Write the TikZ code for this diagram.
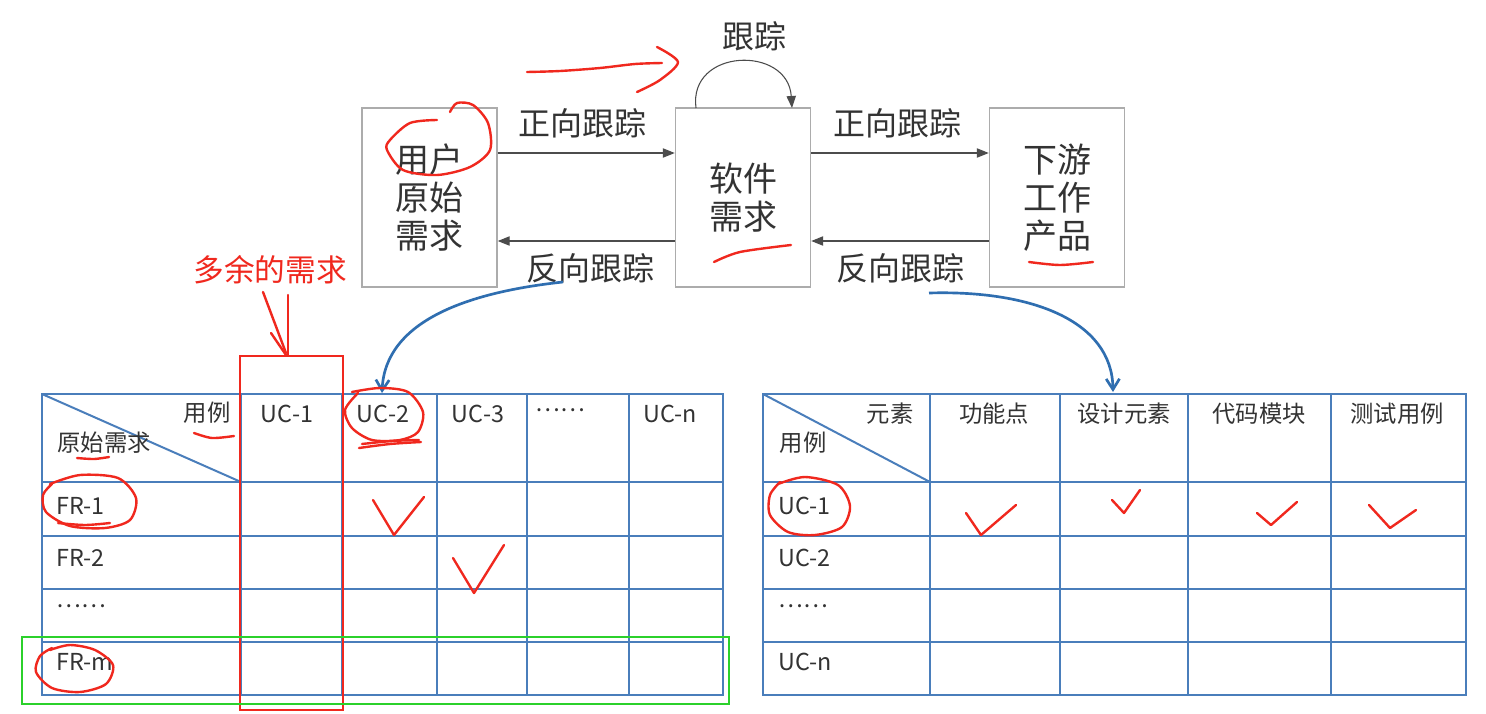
\documentclass[tikz,border=0pt]{standalone}
\usepackage{fontspec}
\setmainfont{Noto Sans CJK SC}
\usetikzlibrary{arrows.meta}
\definecolor{tblue}{HTML}{4A7EBB}
\definecolor{ablue}{HTML}{2F6EB0}
\definecolor{hred}{HTML}{F0281E}
\definecolor{hgreen}{HTML}{2BD12B}
\definecolor{txt}{HTML}{333333}
\begin{document}
\begin{tikzpicture}[x=0.75pt,y=-0.75pt,
  box/.style={draw=gray!65, line width=1.1pt, fill=white, minimum width=101.25pt, minimum height=134.25pt, inner sep=0pt, align=center, font=\fontsize{25.5}{28.5}\selectfont, text=txt},
  lab/.style={font=\fontsize{24}{27}\selectfont, text=txt, inner sep=1pt},
  flow/.style={draw=gray!60!black, line width=0.8pt, -{Triangle[length=9pt,width=7pt]}},
  grid/.style={draw=tblue, line width=1.5pt},
  cell/.style={font=\fontsize{17.5}{20}\selectfont, text=txt, inner sep=1pt},
  hand/.style={draw=hred, line width=1.8pt, line cap=round, line join=round},
  barc/.style={draw=ablue, line width=2pt, -{Straight Barb[length=8pt,width=10pt]}}
]
\useasboundingbox[fill=white] (0,0) rectangle (1486,714);

% ---- top boxes ----
\node[box] (b1) at (429.5,197.5) {用户\\原始\\需求};
\node[box] (b2) at (743,197.5) {软件\\需求};
\node[box] (b3) at (1057,197.5) {下游\\工作\\产品};

\coordinate (fy) at (0,153);
\coordinate (by) at (0,241);
\draw[flow] (b1.east |- fy) -- (b2.west |- fy);
\draw[flow] (b2.east |- fy) -- (b3.west |- fy);
\draw[flow] (b2.west |- by) -- (b1.east |- by);
\draw[flow] (b3.west |- by) -- (b2.east |- by);

\node[lab] (lf1) at (582,123) {正向跟踪};
\node[lab] (lf2) at (897,123) {正向跟踪};
\node[lab] (lb1) at (590,268) {反向跟踪};
\node[lab] (lb2) at (900,268) {反向跟踪};
\node[lab] (lt) at (754,36) {跟踪};

\coordinate (la) at (696,108);
\coordinate (lbb) at (792,108);
\draw[flow] (la) .. controls (688,48) and (788,45) .. (lbb);

% ---- left table ----
\draw[grid] (42,394) rectangle (723,695);
\foreach \x in {241,342,437,527,629} \draw[grid] (\x,394) -- (\x,695);
\foreach \y in {482,536,589,642} \draw[grid] (42,\y) -- (723,\y);
\draw[grid] (42,394) -- (241,482);

\node[cell] (ly) at (207,413) {用例};
\node[cell] (lr) at (104,443) {原始需求};
\node[cell] (uc1) at (287,414) {UC-1};
\node[cell] (uc2) at (383,414) {UC-2};
\node[cell] (uc3) at (478,414) {UC-3};
\node[cell] (ucd) at (560,410) {……};
\node[cell] (ucn) at (670,414) {UC-n};
\node[cell, anchor=west] (fr1) at (55,506) {FR-1};
\node[cell, anchor=west] (fr2) at (55,558) {FR-2};
\node[cell, anchor=west] (frd) at (55,606) {……};
\node[cell, anchor=west] (frm) at (55,662) {FR-m};

% ---- right table ----
\draw[grid] (763,394) rectangle (1466,695);
\foreach \x in {930,1060,1188,1331} \draw[grid] (\x,394) -- (\x,695);
\foreach \y in {482,536,589,642} \draw[grid] (763,\y) -- (1466,\y);
\draw[grid] (763,394) -- (930,482);

\node[cell] (re) at (890,414) {元素};
\node[cell] (ru) at (803,443) {用例};
\node[cell] (c1) at (994,414) {功能点};
\node[cell] (c2) at (1124,414) {设计元素};
\node[cell] (c3) at (1259,414) {代码模块};
\node[cell] (c4) at (1397,414) {测试用例};
\node[cell, anchor=west] (r1) at (777,506) {UC-1};
\node[cell, anchor=west] (r2) at (777,558) {UC-2};
\node[cell, anchor=west] (rd) at (777,606) {……};
\node[cell, anchor=west] (rn) at (777,662) {UC-n};

% ---- blue arcs ----
\coordinate (s1) at (563,282);
\coordinate (t1) at (382,393);
\coordinate (s2) at (929,293);
\coordinate (t2) at (1113,392);
\draw[barc] (s1) .. controls (470,292) and (385,320) .. (t1);
\draw[barc] (s2) .. controls (1030,290) and (1112,320) .. (t2);

% ---- red handwriting ----
\draw[hand] plot[smooth] coordinates {(437,120) (410,123) (390,140) (387,150) (403,170) (437,175) (470,167) (490,150) (488,123) (473,105) (457,103) (450,112)};
\draw[hand] plot[smooth] coordinates {(527,72) (560,71) (600,68) (635,64) (662,63)};
\draw[hand] plot[smooth] coordinates {(657,47) (678,62) (660,80) (637,92)};
\draw[hand] plot[smooth] coordinates {(714,262) (740,252) (791,245)};
\draw[hand] plot[smooth] coordinates {(1029,262) (1060,265) (1093,262)};

\node[font=\fontsize{23}{26}\selectfont, text=hred, inner sep=1pt] (extra) at (270,270) {多余的需求};
\draw[hand] (263,292) -- (286,353);
\draw[hand] (288,295) -- (288,355);
\draw[hand] (271,333) -- (286,355);
\draw[draw=hred, line width=1.8pt] (240,356) rectangle (343,710);
\draw[draw=hgreen, line width=1.8pt] (22,637) rectangle (729,704);

% circles and marks, left table
\draw[hand] plot[smooth] coordinates {(352,392) (380,388) (408,392) (423,412) (418,432) (400,440) (372,440) (352,428) (345,410) (358,393)};
\draw[hand] plot[smooth] coordinates {(359,448) (390,444) (421,442)};
\draw[hand] plot[smooth] coordinates {(362,444) (392,441) (419,440)};
\draw[hand] plot[smooth] coordinates {(194,433) (212,438) (234,436)};
\draw[hand] plot[smooth] coordinates {(77,458) (94,459) (109,457)};
\draw[hand] plot[smooth] coordinates {(50,484) (80,475) (118,478) (136,498) (130,520) (105,528) (70,526) (46,512) (43,495) (52,484)};
\draw[hand] plot[smooth] coordinates {(58,523) (85,525) (110,523)};
\draw[hand] plot[smooth] coordinates {(50,650) (70,645) (95,650) (113,665) (106,684) (80,692) (52,688) (36,672) (40,656) (52,648)};
\draw[hand] (373,500) -- (394,535) -- (424,497);
\draw[hand] (453,558) -- (474,593) -- (504,545);

% right table marks
\draw[hand] plot[smooth] coordinates {(778,484) (805,477) (838,485) (850,506) (842,527) (815,535) (788,532) (770,515) (770,495) (780,482)};
\draw[hand] (966,513) -- (981,535) -- (1016,505);
\draw[hand] (1112,500) -- (1124,513) -- (1140,490);
\draw[hand] (1257,513) -- (1271,525) -- (1297,502);
\draw[hand] (1369,505) -- (1390,528) -- (1416,510);
\end{tikzpicture}
\end{document}
